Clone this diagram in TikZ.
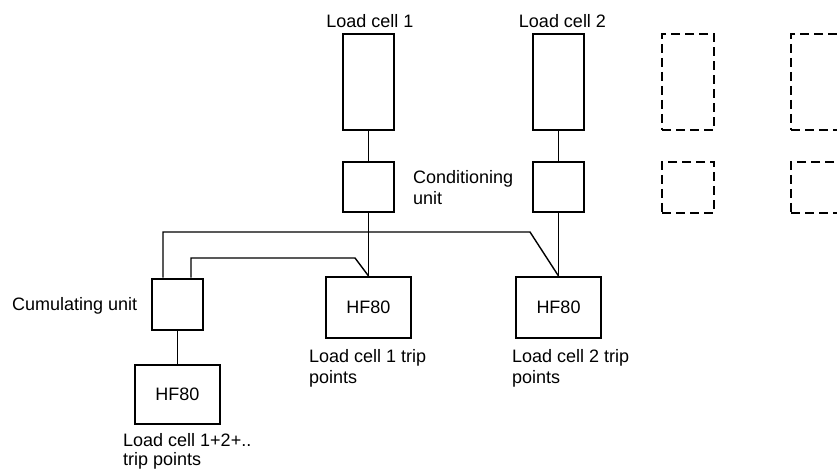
\documentclass[tikz,border=0pt]{standalone}
\usepackage{fontspec}
\setmainfont{Liberation Sans}
\begin{document}
\begin{tikzpicture}[x=1pt,y=-1pt,
  box/.style={draw,line width=2pt,inner sep=0pt,font=\fontsize{18}{21.5}\selectfont},
  dbox/.style={draw,line width=2pt,dash pattern=on 9pt off 5pt,inner sep=0pt},
  wire/.style={line width=1.4pt},
  lbl/.style={inner sep=0pt,align=left,font=\fontsize{18}{21.5}\selectfont}]
\useasboundingbox (0,0) rectangle (837,470);
\clip (0,0) rectangle (837,470);
% load cells and conditioning units
\node[box,minimum width=51pt,minimum height=96pt] (lc1) at (368.5,82) {};
\node[box,minimum width=51pt,minimum height=50pt] (cu1) at (368.5,187) {};
\node[box,minimum width=51pt,minimum height=96pt] (lc2) at (558.5,82) {};
\node[box,minimum width=51pt,minimum height=50pt] (cu2) at (558.5,187) {};
% dashed further cells
\node[dbox,minimum width=52pt,minimum height=96pt] (lc3) at (688,82) {};
\node[dbox,minimum width=52pt,minimum height=51pt] (cu3) at (688,187.5) {};
\node[dbox,minimum width=52pt,minimum height=96pt] (lc4) at (817,82) {};
\node[dbox,minimum width=52pt,minimum height=51pt] (cu4) at (817,187.5) {};
% HF80 units
\node[box,minimum width=85pt,minimum height=61pt] (hf1) at (368.5,307.5) {HF80};
\node[box,minimum width=85pt,minimum height=61pt] (hf2) at (558.5,307.5) {HF80};
\node[box,minimum width=51pt,minimum height=51pt] (cum) at (177.5,304) {};
\node[box,minimum width=85pt,minimum height=59pt] (hf3) at (177.5,394.5) {HF80};
% connectors
\draw[wire] (lc1.south) -- (cu1.north);
\draw[wire] (cu1.south) -- (hf1.north);
\draw[wire] (lc2.south) -- (cu2.north);
\draw[wire] (cu2.south) -- (hf2.north);
\coordinate (o1) at (530,232);
\coordinate (i1) at (355,258);
\draw[wire] ([xshift=-14.5pt]cum.north) |- (o1) -- (hf2.north);
\draw[wire] ([xshift=13.5pt]cum.north) |- (i1) -- (hf1.north);
\draw[wire] (cum.south) -- (hf3.north);
% labels
\node[lbl,anchor=base] (t1) at (370,28) {Load cell 1};
\node[lbl,anchor=base] (t2) at (562.5,28) {Load cell 2};
\node[lbl,anchor=base west] (t3) at (413,205) {Conditioning\\unit};
\node[lbl,anchor=base west] (t4) at (12,310) {Cumulating unit};
\node[lbl,anchor=base west] (t5) at (309,383.5) {Load cell 1 trip\\points};
\node[lbl,anchor=base west] (t6) at (512,383.5) {Load cell 2 trip\\points};
\node[lbl,anchor=base west] (t7) at (123,465.5) {Load cell 1+2+..\\[-2pt]trip points};
\end{tikzpicture}
\end{document}
